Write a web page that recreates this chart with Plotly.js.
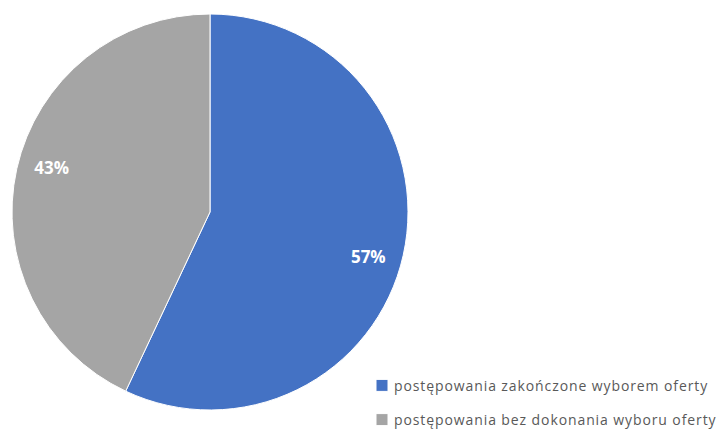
<!DOCTYPE html>
<html>
<head>
<meta charset="utf-8">
<script src="https://cdn.plot.ly/plotly-3.0.1.min.js"></script>
<style>
html,body{margin:0;padding:0;background:#fff;}
#chart{width:721px;height:430px;}
#chart .legendtext{letter-spacing:0.9px;}
</style>
</head>
<body>
<div id="chart"></div>
<script>
const labels = ["postępowania zakończone wyborem oferty", "postępowania bez dokonania wyboru oferty"];
const values = [57, 43];
const colors = ["#4472C4", "#A5A5A5"];

const pieDomain = {x: [12/721, 408/721], y: [1 - 410/430, 1 - 14/430]};

const pieTrace = {
  type: "pie",
  labels: labels,
  values: values,
  sort: false,
  direction: "clockwise",
  rotation: 0,
  marker: {colors: colors, line: {color: "#ffffff", width: 1}},
  textinfo: "none",
  hoverinfo: "label+percent",
  domain: pieDomain
};

// transparent ring trace only used to place the percentage labels further out
const labelTrace = {
  type: "pie",
  labels: labels,
  values: values,
  sort: false,
  direction: "clockwise",
  rotation: 3,
  hole: 0.66,
  showlegend: false,
  marker: {colors: ["rgba(0,0,0,0)", "rgba(0,0,0,0)"], line: {width: 0}},
  texttemplate: "%{percent:.0%}",
  textposition: "inside",
  insidetextorientation: "horizontal",
  textfont: {family: "Open Sans, sans-serif", size: 17, color: "#ffffff", weight: "bold"},
  hoverinfo: "skip",
  domain: pieDomain
};

const layout = {
  width: 721, height: 430,
  margin: {l: 0, r: 0, t: 0, b: 0},
  paper_bgcolor: "#ffffff",
  showlegend: true,
  uniformtext: {mode: "show", minsize: 17},
  legend: {
    x: 0.491, y: 0.14, xanchor: "left", yanchor: "top",
    font: {family: "Open Sans, sans-serif", size: 14, color: "#595959"},
    itemwidth: 30
  }
};

Plotly.newPlot("chart", [pieTrace, labelTrace], layout, {displayModeBar: false, staticPlot: true}).then(function (gd) {
  // widen the row spacing of the legend entries
  const items = gd.querySelectorAll(".legend .traces");
  items.forEach(function (el, i) {
    const t = el.getAttribute("transform") || "";
    const m = /translate\(\s*([-\d.]+)[ ,]+([-\d.]+)\s*\)/.exec(t);
    if (m) {
      el.setAttribute("transform", "translate(" + m[1] + "," + (parseFloat(m[2]) + i * 13) + ")");
    }
    // bring the colour swatch closer to its text
    const pts = el.querySelector(".legendpoints");
    if (pts) {
      const pt = pts.getAttribute("transform") || "";
      pts.setAttribute("transform", pt + " translate(8,0)");
    }
  });
  gd.querySelectorAll(".legend [clip-path]").forEach(function (el) { el.removeAttribute("clip-path"); });
  const bg = gd.querySelector(".legend .bg");
  if (bg) { bg.setAttribute("height", parseFloat(bg.getAttribute("height") || 0) + 13 * (items.length - 1)); }
});
</script>
</body>
</html>
